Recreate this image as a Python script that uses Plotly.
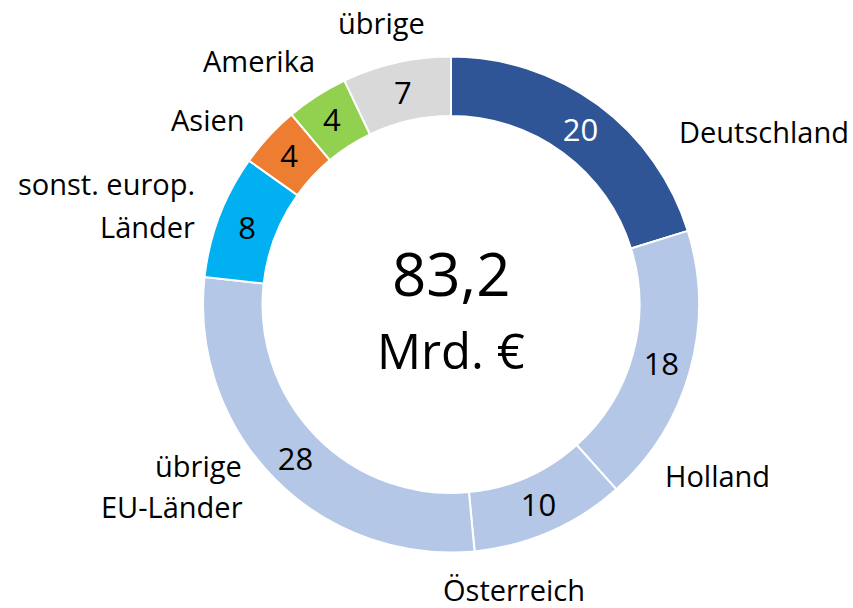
import plotly.graph_objects as go

labels = ["Deutschland", "Holland", "Österreich", "übrige EU-Länder",
          "sonst. europ. Länder", "Asien", "Amerika", "übrige"]
values = [20, 18, 10, 28, 8, 4, 4, 7]
colors = ["#2F5597", "#B4C7E7", "#B4C7E7", "#B4C7E7",
          "#00B0F0", "#ED7D31", "#92D050", "#D9D9D9"]
text_colors = ["white", "black", "black", "black", "black", "black", "black", "black"]
center_total = "83,2"
center_unit = "Mrd. €"

FONT = "Open Sans"
W, H = 853, 608
cx, cy, R = 451, 304.5, 248

fig = go.Figure(go.Pie(
    labels=labels,
    values=values,
    sort=False,
    direction="clockwise",
    rotation=0,
    hole=0.76,
    marker=dict(colors=colors, line=dict(color="white", width=2)),
    texttemplate="%{value}",
    textposition="inside",
    insidetextorientation="horizontal",
    textfont=dict(family=FONT, size=31, color=text_colors),
    showlegend=False,
    hoverinfo="label+value",
    domain=dict(x=[(cx - R) / W, (cx + R) / W],
                y=[(H - cy - R) / H, (H - cy + R) / H]),
))

def px(x, y):
    return x / W, 1 - y / H

ann = []
# outside labels, one line each: (text, x, y, xanchor)
outside = [
    ("Deutschland", 677, 131, "left"),
    ("Holland", 663, 475, "left"),
    ("Österreich", 514, 589, "center"),
    ("übrige", 244, 465, "right"),
    ("EU-Länder", 245, 506, "right"),
    ("sonst. europ.", 197, 184, "right"),
    ("Länder", 197, 226, "right"),
    ("Asien", 247, 119, "right"),
    ("Amerika", 317, 60, "right"),
    ("übrige", 381, 23, "center"),
]
for t, x, y, xa in outside:
    xx, yy = px(x, y)
    ann.append(dict(text=t, x=xx, y=yy, xref="paper", yref="paper",
                    xanchor=xa, yanchor="middle",
                    showarrow=False, font=dict(family=FONT, size=29, color="black")))

xx, yy = px(cx, 273)
ann.append(dict(text=center_total, x=xx, y=yy, xref="paper", yref="paper",
                showarrow=False, font=dict(family=FONT, size=60, color="black")))
xx, yy = px(cx, 350)
ann.append(dict(text=center_unit, x=xx, y=yy, xref="paper", yref="paper",
                showarrow=False, font=dict(family=FONT, size=49, color="black")))

fig.update_layout(
    width=W, height=H,
    margin=dict(l=0, r=0, t=0, b=0),
    paper_bgcolor="white",
    plot_bgcolor="white",
    annotations=ann,
)

fig.write_html("out.html", config={"displayModeBar": False},
               post_script="document.body.style.margin='0px';")
